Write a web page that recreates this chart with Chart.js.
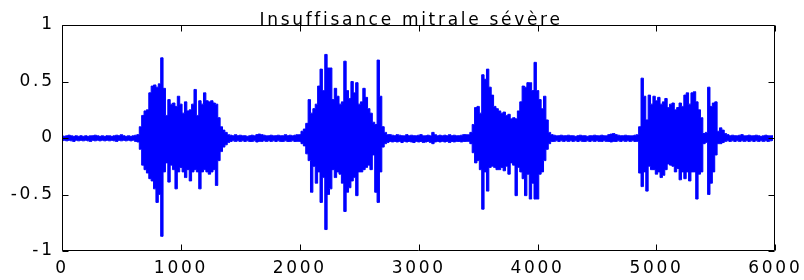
<!DOCTYPE html>
<html>
<head>
<meta charset="utf-8">
<script src="https://cdn.jsdelivr.net/npm/chart.js@4/dist/chart.umd.min.js"></script>
<style>
  html, body { margin: 0; padding: 0; background: #fff; }
  #c { display: block; }
</style>
</head>
<body>
<canvas id="c" width="804" height="280"></canvas>
<script>
// ---- data ----
const titleText = "Insuffisance mitrale sévère";
const xTickValues = [0, 1000, 2000, 3000, 4000, 5000, 6000];
const yTickValues = [-1, -0.5, 0, 0.5, 1];
const SAMPLE_STEP = 20; // samples between successive envelope readings

// upper envelope (positive swing) every 20 samples
const upper = [
  0.02,0.015,0.02,0.025,0.02,0.015,0.02,0.015,0.02,0.015,
  0.02,0.015,0.02,0.02,0.025,0.02,0.015,0.02,0.015,0.02,
  0.02,0.015,0.02,0.025,0.02,0.03,0.02,0.015,0.02,0.015,
  0.02,0.025,0.03,0.10,0.20,0.24,0.25,0.40,0.46,0.47,
  0.45,0.48,0.71,0.44,0.20,0.34,0.30,0.31,0.28,0.37,
  0.30,0.22,0.32,0.24,0.25,0.30,0.43,0.20,0.33,0.30,
  0.40,0.33,0.32,0.33,0.31,0.30,0.18,0.10,0.07,0.05,
  0.03,0.025,0.02,0.03,0.02,0.025,0.02,0.02,0.015,0.02,
  0.025,0.02,0.03,0.035,0.03,0.025,0.02,0.02,0.025,0.02,
  0.02,0.025,0.02,0.02,0.03,0.02,0.025,0.02,0.025,0.03,
  0.03,0.06,0.08,0.13,0.34,0.22,0.26,0.30,0.46,0.61,
  0.42,0.74,0.62,0.62,0.34,0.44,0.37,0.30,0.32,0.68,
  0.42,0.35,0.50,0.40,0.49,0.30,0.32,0.44,0.36,0.26,
  0.22,0.14,0.12,0.69,0.37,0.10,0.05,0.03,0.03,0.025,
  0.02,0.03,0.025,0.02,0.02,0.03,0.02,0.025,0.02,0.02,
  0.025,0.03,0.02,0.02,0.025,0.02,0.05,0.03,0.02,0.025,
  0.02,0.025,0.02,0.03,0.02,0.025,0.02,0.02,0.025,0.03,
  0.03,0.03,0.05,0.12,0.27,0.28,0.22,0.56,0.52,0.61,
  0.45,0.38,0.28,0.26,0.24,0.22,0.23,0.20,0.21,0.17,
  0.18,0.17,0.24,0.32,0.46,0.45,0.49,0.49,0.42,0.67,
  0.42,0.34,0.26,0.37,0.16,0.05,0.03,0.025,0.02,0.02,
  0.025,0.02,0.02,0.025,0.02,0.02,0.015,0.02,0.025,0.02,
  0.02,0.015,0.02,0.02,0.025,0.02,0.02,0.025,0.02,0.02,
  0.03,0.035,0.04,0.03,0.025,0.02,0.02,0.025,0.02,0.02,
  0.02,0.025,0.03,0.10,0.53,0.37,0.16,0.38,0.30,0.37,
  0.33,0.36,0.30,0.32,0.35,0.27,0.30,0.31,0.25,0.27,
  0.31,0.28,0.38,0.40,0.30,0.40,0.41,0.32,0.25,0.18,
  0.04,0.05,0.45,0.28,0.31,0.32,0.06,0.09,0.07,0.04,
  0.03,0.02,0.025,0.02,0.02,0.025,0.03,0.02,0.02,0.025,
  0.02,0.02,0.025,0.02,0.015,0.02,0.025,0.02,0.02,0.02
];

// lower envelope (negative swing) every 20 samples
const lower = [
  -0.025,-0.02,-0.025,-0.02,-0.025,-0.03,-0.02,-0.025,-0.02,-0.025,
  -0.02,-0.025,-0.03,-0.02,-0.025,-0.02,-0.025,-0.02,-0.025,-0.02,
  -0.025,-0.02,-0.025,-0.03,-0.02,-0.025,-0.02,-0.025,-0.02,-0.025,
  -0.02,-0.03,-0.035,-0.10,-0.24,-0.28,-0.31,-0.36,-0.38,-0.45,
  -0.57,-0.50,-0.87,-0.30,-0.22,-0.39,-0.24,-0.28,-0.45,-0.30,
  -0.26,-0.30,-0.35,-0.28,-0.38,-0.30,-0.28,-0.30,-0.45,-0.30,
  -0.28,-0.30,-0.32,-0.30,-0.28,-0.42,-0.20,-0.12,-0.08,-0.06,
  -0.04,-0.03,-0.025,-0.03,-0.025,-0.03,-0.025,-0.03,-0.025,-0.03,
  -0.03,-0.025,-0.035,-0.03,-0.03,-0.025,-0.03,-0.025,-0.03,-0.025,
  -0.03,-0.025,-0.03,-0.03,-0.025,-0.03,-0.03,-0.025,-0.03,-0.03,
  -0.03,-0.05,-0.07,-0.14,-0.20,-0.48,-0.25,-0.40,-0.30,-0.57,
  -0.35,-0.81,-0.50,-0.45,-0.28,-0.35,-0.30,-0.32,-0.40,-0.65,
  -0.48,-0.44,-0.38,-0.35,-0.51,-0.30,-0.30,-0.28,-0.26,-0.24,
  -0.28,-0.15,-0.48,-0.57,-0.30,-0.08,-0.05,-0.04,-0.03,-0.035,
  -0.03,-0.035,-0.03,-0.04,-0.03,-0.035,-0.03,-0.035,-0.04,-0.03,
  -0.035,-0.03,-0.04,-0.035,-0.03,-0.04,-0.05,-0.035,-0.03,-0.035,
  -0.03,-0.035,-0.03,-0.04,-0.03,-0.035,-0.03,-0.03,-0.035,-0.03,
  -0.03,-0.03,-0.05,-0.13,-0.22,-0.20,-0.28,-0.63,-0.30,-0.47,
  -0.26,-0.25,-0.26,-0.28,-0.28,-0.26,-0.29,-0.25,-0.32,-0.22,
  -0.24,-0.51,-0.26,-0.30,-0.36,-0.51,-0.32,-0.54,-0.40,-0.54,
  -0.54,-0.32,-0.30,-0.20,-0.10,-0.05,-0.03,-0.03,-0.025,-0.03,
  -0.025,-0.03,-0.025,-0.03,-0.025,-0.03,-0.025,-0.03,-0.025,-0.03,
  -0.03,-0.025,-0.03,-0.025,-0.03,-0.025,-0.03,-0.03,-0.025,-0.03,
  -0.03,-0.035,-0.03,-0.03,-0.025,-0.03,-0.025,-0.03,-0.025,-0.03,
  -0.025,-0.03,-0.03,-0.31,-0.43,-0.30,-0.47,-0.25,-0.28,-0.28,
  -0.32,-0.30,-0.35,-0.33,-0.28,-0.23,-0.24,-0.25,-0.30,-0.27,
  -0.37,-0.30,-0.36,-0.30,-0.38,-0.30,-0.30,-0.54,-0.32,-0.30,
  -0.05,-0.04,-0.50,-0.40,-0.30,-0.15,-0.05,-0.05,-0.04,-0.03,
  -0.025,-0.03,-0.025,-0.03,-0.025,-0.03,-0.025,-0.03,-0.025,-0.03,
  -0.025,-0.03,-0.025,-0.03,-0.025,-0.03,-0.025,-0.03,-0.025,-0.02
];

// ---- build the two envelope traces ----
const upperPts = upper.map((v, i) => ({ x: i * SAMPLE_STEP, y: v }));
const lowerPts = lower.map((v, i) => ({ x: i * SAMPLE_STEP, y: v }));

const FONT = { family: "'DejaVu Sans', sans-serif", size: 17 };
const BLUE = '#0000ff';

const spacingPlugin = {
  id: 'spacing',
  beforeDraw(chart) { chart.ctx.letterSpacing = '2.7px'; }
};

// shift the title box so it is centred where the reference has it
const titlePlacePlugin = {
  id: 'titlePlace',
  afterLayout(chart) {
    const t = chart.titleBlock;
    if (t) { t.left = 45; t.right = 777; t.top += 3; t.bottom += 3; }
  }
};

const boxPlugin = {
  id: 'matlabBox',
  afterDatasetsDraw(chart) {
    const { ctx, chartArea: a, scales } = chart;
    ctx.save();
    ctx.strokeStyle = '#000';
    ctx.lineWidth = 1;
    const L = Math.round(a.left) + 0.5, R = Math.round(a.right) - 0.5;
    const T = Math.round(a.top) + 0.5, B = Math.round(a.bottom) - 0.5;
    ctx.beginPath();
    ctx.rect(L, T, R - L, B - T);
    const tl = 6;
    xTickValues.forEach(v => {
      const px = Math.round(scales.x.getPixelForValue(v)) + 0.5;
      ctx.moveTo(px, B); ctx.lineTo(px, B - tl);
      ctx.moveTo(px, T); ctx.lineTo(px, T + tl);
    });
    yTickValues.forEach(v => {
      const py = Math.round(scales.y.getPixelForValue(v)) + 0.5;
      ctx.moveTo(L, py); ctx.lineTo(L + tl, py);
      ctx.moveTo(R, py); ctx.lineTo(R - tl, py);
    });
    ctx.stroke();
    ctx.restore();
  }
};

const traceStyle = {
  borderColor: BLUE,
  backgroundColor: BLUE,
  borderWidth: 1,
  pointRadius: 0,
  tension: 0,
  stepped: 'middle',
  fill: 'origin'
};

new Chart(document.getElementById('c'), {
  type: 'line',
  data: {
    datasets: [
      { label: 'positive', data: upperPts, ...traceStyle },
      { label: 'negative', data: lowerPts, ...traceStyle }
    ]
  },
  options: {
    responsive: false,
    animation: false,
    devicePixelRatio: 1,
    parsing: false,
    layout: { padding: { left: 0, right: 27, top: 0, bottom: 0 } },
    plugins: {
      legend: { display: false },
      tooltip: { enabled: false },
      filler: { propagate: false },
      title: {
        display: true,
        text: titleText,
        color: '#000',
        font: { ...FONT, weight: 'normal', lineHeight: 0.85 },
        padding: { top: 10.6, bottom: 0 }
      }
    },
    scales: {
      x: {
        type: 'linear',
        min: 0, max: 6000,
        grid: { display: false, drawTicks: false },
        border: { display: false },
        afterFit(s) { s.height = 29; },
        afterBuildTicks(s) { s.ticks = xTickValues.map(v => ({ value: v })); },
        ticks: {
          color: '#000', font: FONT, padding: 7,
          maxRotation: 0, autoSkip: false,
          callback: v => String(v)
        }
      },
      y: {
        type: 'linear',
        min: -1, max: 1,
        grid: { display: false, drawTicks: false },
        border: { display: false },
        afterFit(s) { s.width = 62; },
        afterBuildTicks(s) { s.ticks = yTickValues.map(v => ({ value: v })); },
        ticks: {
          color: '#000', font: FONT, padding: 7.3,
          autoSkip: false,
          callback: v => String(v)
        }
      }
    }
  },
  plugins: [spacingPlugin, titlePlacePlugin, boxPlugin]
});
</script>
</body>
</html>
